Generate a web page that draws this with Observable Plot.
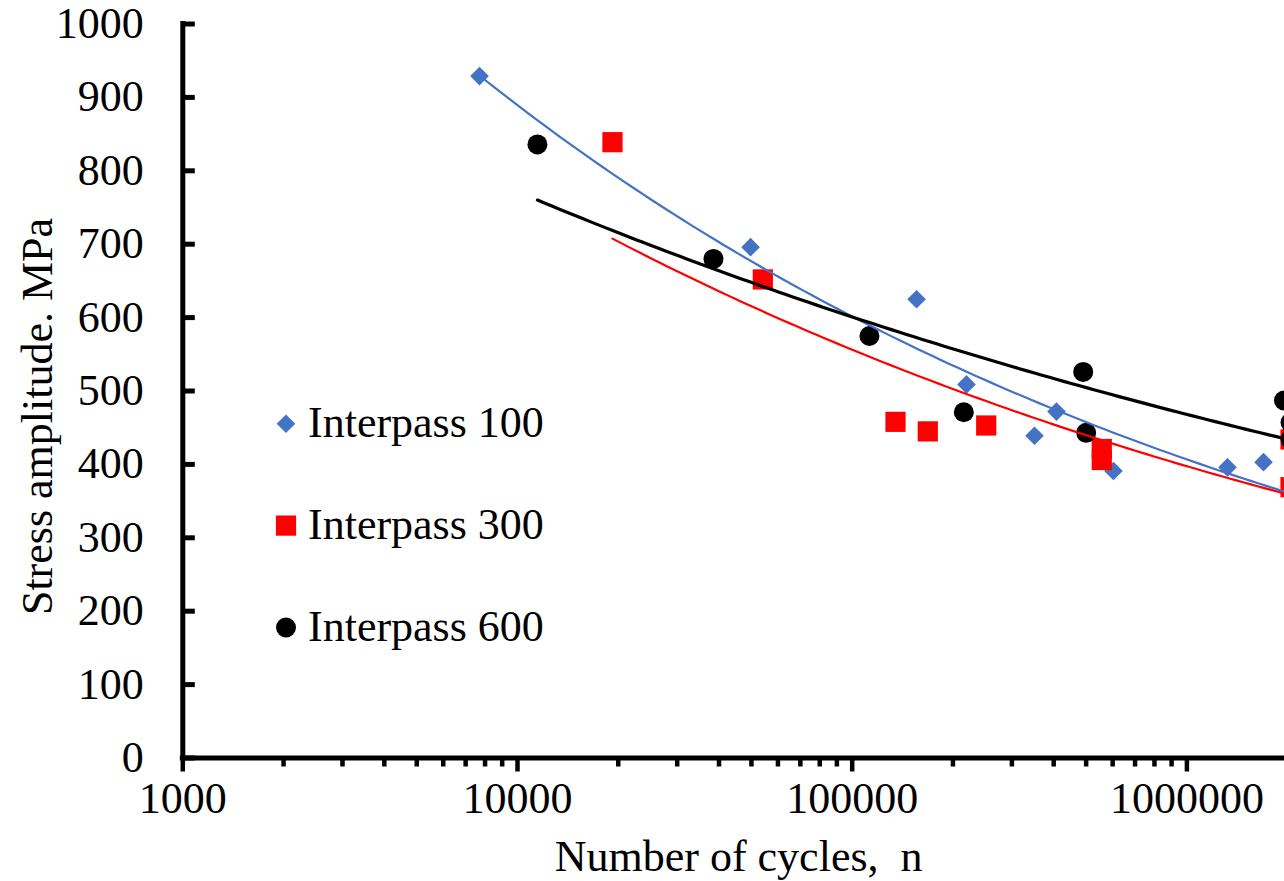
<!DOCTYPE html>
<html>
<head>
<meta charset="utf-8">
<script src="https://cdn.jsdelivr.net/npm/d3@7"></script>
<script src="https://cdn.jsdelivr.net/npm/@observablehq/plot@0.6"></script>
<style>
  html, body { margin: 0; padding: 0; background: #fff; overflow: hidden; }
  #chart { position: relative; width: 1284px; height: 881px; }
</style>
</head>
<body>
<div id="chart"></div>
<script>
// S–N fatigue data for three interpass temperatures
const cycles100 = [7700, 49700, 155700, 219500, 350500, 407700, 603400, 1322000, 1694000, 2040000];
const stress100 = [929, 696, 625, 509, 439, 472, 391, 396, 403, 369];

const cycles300 = [19220, 54070, 134700, 168200, 251400, 556800, 556800, 2040000, 2040000];
const stress300 = [839, 652, 458, 445, 453, 421, 406, 434, 369];

const cycles600 = [11470, 38500, 112600, 215500, 490000, 500100, 1950000, 2040000, 2040000];
const stress600 = [836, 680, 575, 471, 526, 443, 487, 457, 434];

const seriesNames = ["Interpass 100", "Interpass 300", "Interpass 600"];
const seriesColors = ["#4472C4", "#FF0000", "#000000"];
const seriesSymbols = ["diamond2", "square", "circle"];
const seriesRadius = [8.4, 11.4, 10];
const fitWidths = [2.2, 2.2, 3.2];

const xMajorTicks = [1000, 10000, 100000, 1000000];
const xMinorTicks = [2, 3, 4, 5, 6, 7, 8, 9].flatMap(m => [m * 1000, m * 10000, m * 100000]);
const yTicks = [0, 100, 200, 300, 400, 500, 600, 700, 800, 900, 1000];

const xTitle = "Number of cycles,  n";
const yTitle = "Stress amplitude. MPa";

const allCycles = [cycles100, cycles300, cycles600];
const allStress = [stress100, stress300, stress600];

// Measured points, one table per series
const pointSets = seriesNames.map((name, s) =>
  allCycles[s].map((n, i) => ({series: name, n, stress: allStress[s][i]}))
);

// Power-law trendline (least squares on log S vs log N), spanning each series' range
function powerFit(xs, ys) {
  const lx = xs.map(Math.log), ly = ys.map(Math.log);
  const mx = d3.mean(lx), my = d3.mean(ly);
  const b = d3.sum(lx, (v, i) => (v - mx) * (ly[i] - my)) / d3.sum(lx, v => (v - mx) ** 2);
  const a = Math.exp(my - b * mx);
  const [x0, x1] = d3.extent(xs);
  return d3.range(0, 101).map(i => {
    const n = x0 * (x1 / x0) ** (i / 100);
    return {n, stress: a * n ** b};
  });
}
const fitSets = seriesNames.map((name, s) => powerFit(allCycles[s], allStress[s]));

const W = 1284, H = 881;
const mL = 182.3, mT = 23.5, frameBottom = 757.5;
const decade = 334.7;
const xMax = 10 ** (3 + (W - mL) / decade);
const font = "'Liberation Serif', 'Times New Roman', serif";

const chart = Plot.plot({
  width: W,
  height: H,
  marginLeft: mL,
  marginRight: 0,
  marginTop: mT,
  marginBottom: H - frameBottom,
  style: {fontFamily: font, fontSize: "44px", color: "#000", background: "#fff", overflow: "hidden"},
  x: {type: "log", domain: [1000, xMax]},
  y: {domain: [0, 1000]},
  marks: [
    // markers
    ...seriesNames.map((name, s) =>
      Plot.dot(pointSets[s], {
        x: "n", y: "stress",
        symbol: seriesSymbols[s], fill: seriesColors[s], r: seriesRadius[s], stroke: "none"
      })
    ),
    // trendlines
    ...seriesNames.map((name, s) =>
      Plot.line(fitSets[s], {
        x: "n", y: "stress",
        stroke: seriesColors[s], strokeWidth: fitWidths[s], curve: "linear"
      })
    ),
    // axis lines
    Plot.ruleX([1000], {stroke: "#000", strokeWidth: 5, strokeLinecap: "square"}),
    Plot.ruleY([0], {stroke: "#000", strokeWidth: 5, strokeLinecap: "square"}),
    // inward y ticks
    Plot.ruleY(yTicks, {stroke: "#000", strokeWidth: 5, insetRight: (W - mL) - 12.5}),
    Plot.axisY({
      ticks: yTicks, tickSize: 0, tickPadding: 39, label: null,
      tickFormat: d => String(d), fontSize: 44, fill: "#000"
    }),
    Plot.axisX({
      ticks: xMajorTicks, tickSize: 14, tickPadding: 10, strokeWidth: 4.5, label: null,
      tickFormat: d => String(d), fontSize: 44, fill: "#000", stroke: "#000"
    }),
    Plot.axisX({
      ticks: xMinorTicks, tickSize: 9, strokeWidth: 4.5, label: null,
      tickFormat: () => "", stroke: "#000"
    }),
    // axis titles
    Plot.text([xTitle], {
      frameAnchor: "bottom", text: d => d, dx: 5, dy: 113,
      lineAnchor: "bottom", textAnchor: "middle", fontSize: 44, fill: "#000"
    }),
    Plot.text([yTitle], {
      frameAnchor: "left", text: d => d, dx: -130.6, dy: 25.5, rotate: -90,
      lineAnchor: "bottom", textAnchor: "middle", fontSize: 44, fill: "#000"
    })
  ]
});

// legend inside the plot area
const svg = d3.select(chart);
const legend = svg.append("g")
  .attr("font-family", font)
  .attr("font-size", 44)
  .attr("text-anchor", "start")
  .attr("fill", "#000");
const legendX = 286, legendTop = 423.7, legendStep = 101.9;
const symbolTypes = {diamond2: d3.symbolDiamond2, square: d3.symbolSquare, circle: d3.symbolCircle};
seriesNames.forEach((name, s) => {
  const cy = legendTop + s * legendStep;
  legend.append("path")
    .attr("transform", `translate(${legendX},${cy})`)
    .attr("d", d3.symbol(symbolTypes[seriesSymbols[s]], Math.PI * seriesRadius[s] ** 2)())
    .attr("fill", seriesColors[s]);
  legend.append("text")
    .attr("x", legendX + 22)
    .attr("y", cy + 13.3)
    .attr("text-anchor", "start")
    .text(name);
});

document.getElementById("chart").appendChild(chart);
</script>
</body>
</html>
